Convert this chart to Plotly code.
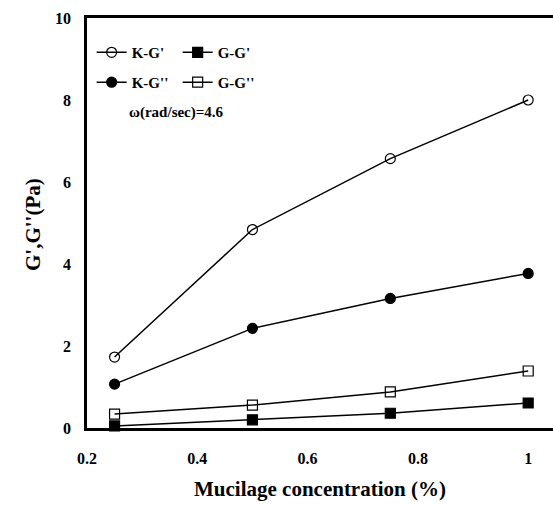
import plotly.graph_objects as go

conc = [0.25, 0.5, 0.75, 1.0]
kg1 = [1.73, 4.84, 6.57, 8.0]
gg1 = [0.05, 0.20, 0.36, 0.61]
kg2 = [1.07, 2.43, 3.16, 3.77]
gg2 = [0.34, 0.56, 0.88, 1.39]

x_ticks = [0.2, 0.4, 0.6, 0.8, 1.0]
x_ticklabels = ["0.2", "0.4", "0.6", "0.8", "1"]
y_ticks = [0, 2, 4, 6, 8, 10]

FONT = "Liberation Serif"
W, H = 553, 505
L, R, T, B = 87, 0, 18, 77
pw, ph = W - L - R, H - T - B

def px_x(p):
    return (p - L) / pw

def px_y(p):
    return (H - B - p) / ph

fig = go.Figure()

def add(name, y, symbol, legend):
    fig.add_trace(go.Scatter(
        x=conc, y=y, name=name, mode="lines+markers",
        line=dict(color="black", width=1.5),
        marker=dict(symbol=symbol, size=10, color="black",
                    line=dict(color="black", width=1.2)),
        legend=legend, cliponaxis=False))

add("K-G'", kg1, "circle-open", "legend")
add("G-G'", gg1, "square", "legend")
add("K-G''", kg2, "circle", "legend2")
add("G-G''", gg2, "square-open", "legend2")

leg = dict(orientation="h", xanchor="left", yanchor="top",
           font=dict(family=FONT, size=15, color="black", weight="bold"),
           bgcolor="rgba(0,0,0,0)", itemwidth=30, entrywidth=41,
           entrywidthmode="pixels", traceorder="normal")

fig.add_annotation(x=0.2726, y=7.7, xref="x", yref="y", text="<b>ω(rad/sec)=4.6</b>",
                   showarrow=False, xanchor="left", yanchor="middle",
                   font=dict(family=FONT, size=15, color="black"))
fig.add_annotation(x=px_x(320), y=px_y(489), xref="paper", yref="paper",
                   text="<b>Mucilage concentration (%)</b>", showarrow=False,
                   xanchor="center", yanchor="middle",
                   font=dict(family=FONT, size=21, color="black"))
fig.add_annotation(x=px_x(33), y=px_y(225), xref="paper", yref="paper",
                   text="<b>G',G''(Pa)</b>", showarrow=False, textangle=-90,
                   xanchor="center", yanchor="middle",
                   font=dict(family=FONT, size=21, color="black"))

fig.update_layout(
    width=W, height=H,
    margin=dict(l=L, r=R, t=T, b=B),
    paper_bgcolor="white", plot_bgcolor="white",
    showlegend=True,
    legend=dict(x=0.01, y=0.956, **leg),
    legend2=dict(x=0.01, y=0.883, **leg),
    font=dict(family=FONT, color="black"),
    xaxis=dict(range=[0.2, 1.045], tickvals=x_ticks, ticktext=x_ticklabels,
               showgrid=False, zeroline=False, showline=True, linecolor="black",
               linewidth=2.5, mirror=True, ticks="", ticklabelstandoff=14,
               automargin=False,
               tickfont=dict(family=FONT, size=16, color="black", weight="bold")),
    yaxis=dict(range=[0, 10], tickvals=y_ticks,
               showgrid=False, zeroline=False, showline=True, linecolor="black",
               linewidth=2.5, ticks="", ticklabelstandoff=10, automargin=False,
               tickfont=dict(family=FONT, size=16, color="black", weight="bold")),
)

fig.write_html("out.html", config={"displayModeBar": False},
               post_script="document.body.style.margin='0px';document.body.style.overflow='hidden';")
